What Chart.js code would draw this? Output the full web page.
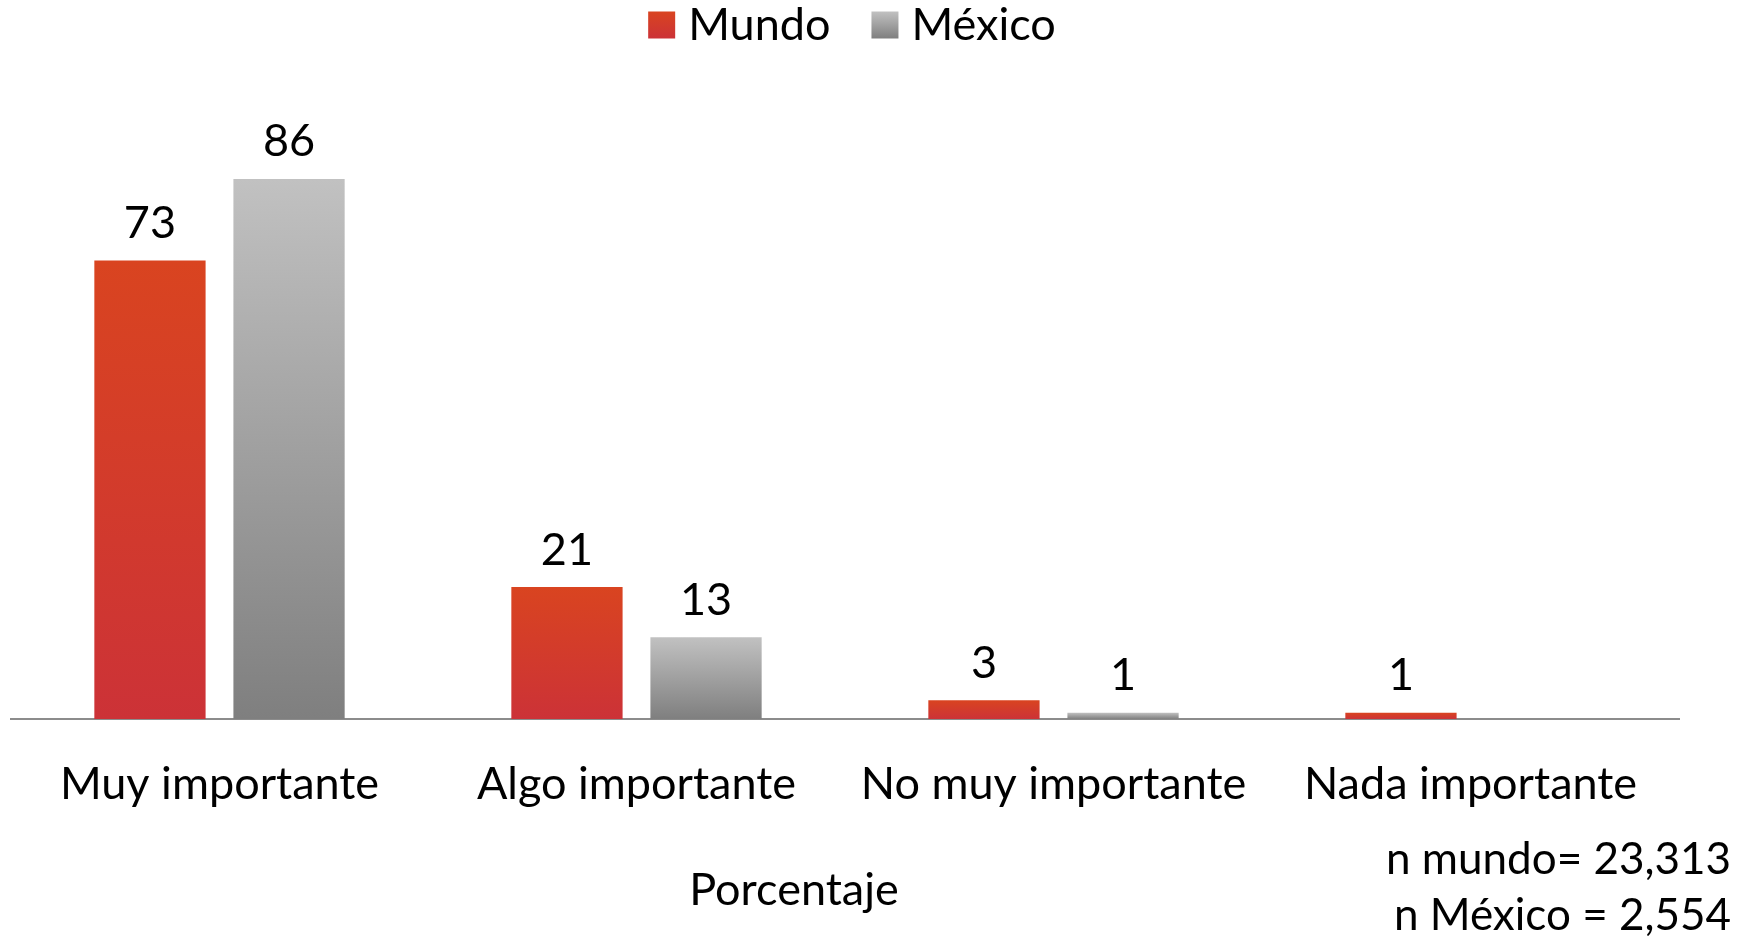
<!DOCTYPE html>
<html>
<head>
<meta charset="utf-8">
<script src="https://cdn.jsdelivr.net/npm/chart.js@4.4.0/dist/chart.umd.min.js"></script>
<style>
  html, body { margin: 0; padding: 0; background: #fff; }
  #wrap { width: 1752px; height: 936px; position: relative; }
</style>
</head>
<body>
<div id="wrap"><canvas id="chart"></canvas></div>
<script>
const categories = ["Muy importante", "Algo importante", "No muy importante", "Nada importante"];
const mundoValues = [73, 21, 3, 1];
const mexicoValues = [86, 13, 1, null];
const seriesNames = ["Mundo", "México"];
const sampleNotes = ["n mundo= 23,313", "n México = 2,554"];
const axisTitle = "Porcentaje";

const FONT = "Lato, 'Open Sans', sans-serif";
const FONT_SIZE = 45;
const mundoStops = ["#d94420", "#cc3237"];
const mexicoStops = ["#c1c1c1", "#7f7f7f"];

document.addEventListener("DOMContentLoaded", () => {
  renderChart();
});

function barGradient(stops) {
  return (context) => {
    const { ctx, chartArea, scales } = context.chart;
    if (!chartArea || !context.parsed || context.parsed.y == null) return stops[0];
    const top = scales.y.getPixelForValue(context.parsed.y);
    const base = scales.y.getPixelForValue(0);
    const gradient = ctx.createLinearGradient(0, top, 0, base);
    gradient.addColorStop(0, stops[0]);
    gradient.addColorStop(1, stops[1]);
    return gradient;
  };
}

// legend drawn by hand so the item gap and its height can be set apart
const topLegend = {
  id: "topLegend",
  afterDraw(chart) {
    const { ctx, chartArea } = chart;
    const box = 27;
    const textGap = 13;
    const itemGap = 41;
    const y = 25;
    ctx.save();
    ctx.font = `${FONT_SIZE}px ${FONT}`;
    ctx.textBaseline = "middle";
    ctx.textAlign = "left";
    const items = chart.data.datasets.map((dataset) => ({
      text: dataset.label,
      stops: dataset.stops,
      width: box + textGap + ctx.measureText(dataset.label).width,
    }));
    const total = items.reduce((sum, item) => sum + item.width, 0) + itemGap * (items.length - 1);
    let x = (chartArea.left + chartArea.right) / 2 + 7 - total / 2;
    items.forEach((item) => {
      const gradient = ctx.createLinearGradient(0, y - box / 2, 0, y + box / 2);
      gradient.addColorStop(0, item.stops[0]);
      gradient.addColorStop(1, item.stops[1]);
      ctx.fillStyle = gradient;
      ctx.fillRect(x, y - box / 2, box, box);
      ctx.fillStyle = "#000";
      ctx.fillText(item.text, x + box + textGap, y);
      x += item.width + itemGap;
    });
    ctx.restore();
  },
};

const valueLabels = {
  id: "valueLabels",
  afterDatasetsDraw(chart) {
    const { ctx } = chart;
    ctx.save();
    ctx.font = `${FONT_SIZE}px ${FONT}`;
    ctx.fillStyle = "#000";
    ctx.textAlign = "center";
    ctx.textBaseline = "middle";
    chart.data.datasets.forEach((dataset, i) => {
      chart.getDatasetMeta(i).data.forEach((bar, j) => {
        const value = dataset.data[j];
        if (value == null) return;
        ctx.fillText(String(value), bar.x, bar.y - 37);
      });
    });
    ctx.restore();
  },
};

const footnotes = {
  id: "footnotes",
  afterDraw(chart) {
    const { ctx } = chart;
    ctx.save();
    ctx.font = `${FONT_SIZE}px ${FONT}`;
    ctx.fillStyle = "#000";
    ctx.textBaseline = "middle";
    ctx.textAlign = "center";
    ctx.fillText(axisTitle, 794, 890);
    ctx.textAlign = "right";
    ctx.font = `44px ${FONT}`;
    ctx.fillText(sampleNotes[0], 1731, 860);
    ctx.fillText(sampleNotes[1], 1731, 916);
    ctx.restore();
  },
};

function renderChart() {
  const ctx = document.getElementById("chart");
  new Chart(ctx, {
    type: "bar",
    data: {
      labels: categories,
      datasets: [
        { label: seriesNames[0], data: mundoValues, backgroundColor: barGradient(mundoStops), stops: mundoStops },
        { label: seriesNames[1], data: mexicoValues, backgroundColor: barGradient(mexicoStops), stops: mexicoStops },
      ],
    },
    options: {
      responsive: true,
      maintainAspectRatio: false,
      animation: false,
      categoryPercentage: 0.667,
      barPercentage: 0.8,
      layout: {
        padding: { left: 11, right: 73, top: 91, bottom: 95 },
      },
      scales: {
        x: {
          grid: { display: false },
          border: { display: true, color: "#8c8c8c", width: 2 },
          ticks: {
            color: "#000",
            font: { family: FONT, size: FONT_SIZE },
            padding: 30,
            maxRotation: 0,
            autoSkip: false,
          },
        },
        y: {
          display: false,
          min: 0,
          max: 100,
        },
      },
      plugins: {
        tooltip: { enabled: false },
        legend: { display: false },
      },
    },
    plugins: [valueLabels, footnotes, topLegend],
  });
}
</script>
</body>
</html>
